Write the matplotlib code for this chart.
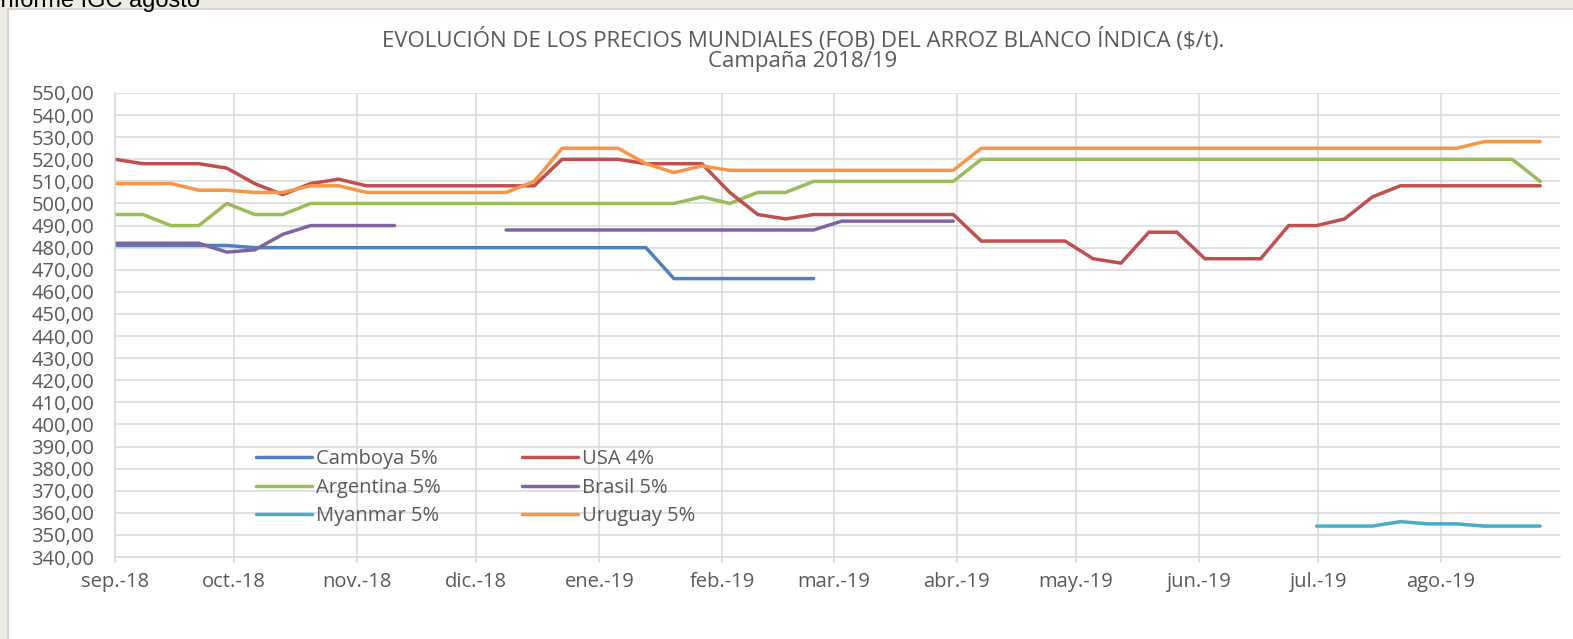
import matplotlib
matplotlib.use("Agg")
import matplotlib.pyplot as plt
from matplotlib.patches import Rectangle
from matplotlib.ticker import FuncFormatter, MultipleLocator
import numpy as np
import pandas as pd

nan = np.nan

# weekly quotes, campaign 2018/19 (52 readings, first one on the axis start)
dates = pd.date_range("2018-09-01", "2019-08-26", periods=52)

camboya = [481, 481, 481, 481, 481, 480, 480, 480, 480, 480,
           480, 480, 480, 480, 480, 480, 480, 480, 480, 480,
           466, 466, 466, 466, 466, 466] + [nan] * 26

usa = [520, 518, 518, 518, 516, 509, 504, 509, 511, 508,
       508, 508, 508, 508, 508, 508, 520, 520, 520, 518,
       518, 518, 505, 495, 493, 495, 495, 495, 495, 495,
       495, 483, 483, 483, 483, 475, 473, 487, 487, 475,
       475, 475, 490, 490, 493, 503, 508, 508, 508, 508,
       508, 508]

argentina = [495, 495, 490, 490, 500, 495, 495, 500, 500, 500,
             500, 500, 500, 500, 500, 500, 500, 500, 500, 500,
             500, 503, 500, 505, 505, 510, 510, 510, 510, 510,
             510, 520, 520, 520, 520, 520, 520, 520, 520, 520,
             520, 520, 520, 520, 520, 520, 520, 520, 520, 520,
             520, 510]

brasil = [482, 482, 482, 482, 478, 479, 486, 490, 490, 490,
          490, nan, nan, nan, 488, 488, 488, 488, 488, 488,
          488, 488, 488, 488, 488, 488, 492, 492, 492, 492,
          492] + [nan] * 21

myanmar = [nan] * 43 + [354, 354, 354, 356, 355, 355, 354, 354, 354]

uruguay = [509, 509, 509, 506, 506, 505, 505, 508, 508, 505,
           505, 505, 505, 505, 505, 510, 525, 525, 525, 518,
           514, 517, 515, 515, 515, 515, 515, 515, 515, 515,
           515, 525, 525, 525, 525, 525, 525, 525, 525, 525,
           525, 525, 525, 525, 525, 525, 525, 525, 525, 528,
           528, 528]

# order matches the legend read column-wise
series = [
    ("Camboya 5%", camboya, "#4F81BD"),
    ("Argentina 5%", argentina, "#9BBB59"),
    ("Myanmar 5%", myanmar, "#4BACC6"),
    ("USA 4%", usa, "#C0504D"),
    ("Brasil 5%", brasil, "#8064A2"),
    ("Uruguay 5%", uruguay, "#F79646"),
]

month_ticks = pd.date_range("2018-09-01", periods=12, freq="MS")
month_labels = ["sep.-18", "oct.-18", "nov.-18", "dic.-18", "ene.-19", "feb.-19",
                "mar.-19", "abr.-19", "may.-19", "jun.-19", "jul.-19", "ago.-19"]

W, H = 1573, 639
plt.rcParams["font.family"] = ["Open Sans", "DejaVu Sans"]
fig = plt.figure(figsize=(W / 100, H / 100), dpi=100)
fig.patch.set_facecolor("#EEEBE0")

# white chart panel
fig.patches.append(Rectangle((8 / W, -0.01), 1.0, 1 - 9 / H + 0.01, transform=fig.transFigure,
                             facecolor="white", edgecolor="#D0D0D0", lw=1.2, zorder=0))
fig.text(-6 / W, 1 - 7 / H, "Informe IGC agosto", fontsize=17, family="Liberation Sans",
         va="baseline", ha="left", color="black")

ax = fig.add_axes([115 / W, 1 - 557 / H, (1560 - 115) / W, (557 - 93) / H])
ax.set_zorder(2)
ax.set_facecolor("white")

for name, vals, col in series:
    ax.plot(dates, np.array(vals, dtype=float), color=col, lw=2.5, label=name,
            solid_capstyle="round", solid_joinstyle="round")

ax.set_ylim(340, 550)
ax.yaxis.set_major_locator(MultipleLocator(10))
ax.yaxis.set_major_formatter(FuncFormatter(lambda v, p: f"{v:.2f}".replace(".", ",")))
ax.set_xlim(pd.Timestamp("2018-09-01"), pd.Timestamp("2019-08-31"))
ax.set_xticks(month_ticks)
ax.set_xticklabels(month_labels)

gc = "#D9D9D9"
ax.grid(True, color=gc, lw=1.1)
ax.set_axisbelow(True)
for s in ["top", "right"]:
    ax.spines[s].set_visible(False)
for s in ["left", "bottom"]:
    ax.spines[s].set_color(gc)
    ax.spines[s].set_linewidth(1.1)
ax.tick_params(axis="y", length=0, pad=15, labelsize=14.5, labelcolor="#595959")
ax.tick_params(axis="x", length=4, width=1.1, color=gc, pad=7, labelsize=14.5, labelcolor="#595959")

fig.text(0.5105, 1 - 40 / H, "EVOLUCIÓN DE LOS PRECIOS MUNDIALES (FOB) DEL ARROZ BLANCO ÍNDICA ($/t).",
         ha="center", va="center", fontsize=16, color="#595959")
fig.text(0.5105, 1 - 61 / H, "Campaña 2018/19", ha="center", va="center", fontsize=16, color="#595959")

ax.legend(ncol=2, frameon=False, loc="upper left", bbox_to_anchor=(0.0905, 0.255),
          fontsize=14.5, handlelength=2.8, handletextpad=0.2, columnspacing=4.0,
          labelspacing=0.44, borderpad=0, labelcolor="#595959")

fig.savefig("out.png", dpi=100, facecolor=fig.get_facecolor())
